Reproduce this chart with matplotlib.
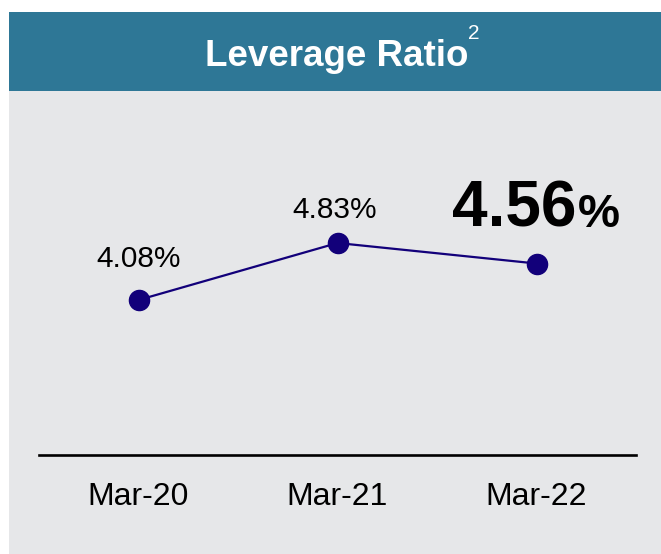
import matplotlib
matplotlib.use("Agg")
import matplotlib.pyplot as plt
from matplotlib.patches import Rectangle

periods = ["Mar-20", "Mar-21", "Mar-22"]
ratio = [4.08, 4.83, 4.56]
ratio_labels = ["4.08%", "4.83%", "4.56"]

teal = "#2E7796"
panel = "#E6E7E9"
navy = "#12007A"

plt.rcParams['font.family'] = ['Liberation Sans', 'DejaVu Sans']

W, H = 661, 554
fig = plt.figure(figsize=(W / 100, H / 100), dpi=100)
fig.patch.set_facecolor("white")

# background panels (pixel -> figure fraction)
fig.add_artist(Rectangle((9 / W, 0), 1 - 9 / W, (H - 91) / H,
                         transform=fig.transFigure, facecolor=panel, edgecolor="none", zorder=0))
fig.add_artist(Rectangle((9 / W, (H - 91) / H), 1 - 9 / W, 79 / H,
                         transform=fig.transFigure, facecolor=teal, edgecolor="none", zorder=0))
fig.text(337 / W, 1 - 66 / H, "Leverage Ratio", color="white", fontsize=26.5,
         fontweight="bold", ha="center", va="baseline")
fig.text(468 / W, 1 - 39 / H, "2", color="white", fontsize=15, ha="left", va="baseline")

ax = fig.add_axes([39 / W, 99 / H, 597 / W, 355 / H])
ax.set_facecolor("none")
x = list(range(len(periods)))
ax.plot(x, ratio, color=navy, lw=1.6, marker="o", markersize=14.5, zorder=3)

ax.set_xlim(-0.5, 2.5)
ax.set_ylim(2.0405, 6.7116)
for s in ["top", "left", "right"]:
    ax.spines[s].set_visible(False)
ax.spines["bottom"].set_linewidth(1.9)
ax.spines["bottom"].set_color("black")
ax.set_yticks([])
ax.set_xticks(x)
ax.set_xticklabels(periods, fontsize=23)
ax.tick_params(axis="x", length=0, pad=19.5)

# value labels
ax.annotate(ratio_labels[0], (x[0], ratio[0]), xytext=(0, 24), textcoords="offset points",
            ha="center", va="baseline", fontsize=21.5)
ax.annotate(ratio_labels[1], (x[1], ratio[1]), xytext=(-2, 18), textcoords="offset points",
            ha="center", va="baseline", fontsize=21.5)
ax.annotate(ratio_labels[2], (x[2], ratio[2]), xytext=(29, 26.5), textcoords="offset points",
            ha="right", va="baseline", fontsize=46, fontweight="bold")
ax.annotate("%", (x[2], ratio[2]), xytext=(30, 26.5), textcoords="offset points",
            ha="left", va="baseline", fontsize=34, fontweight="bold")

fig.savefig("out.png", dpi=100)
